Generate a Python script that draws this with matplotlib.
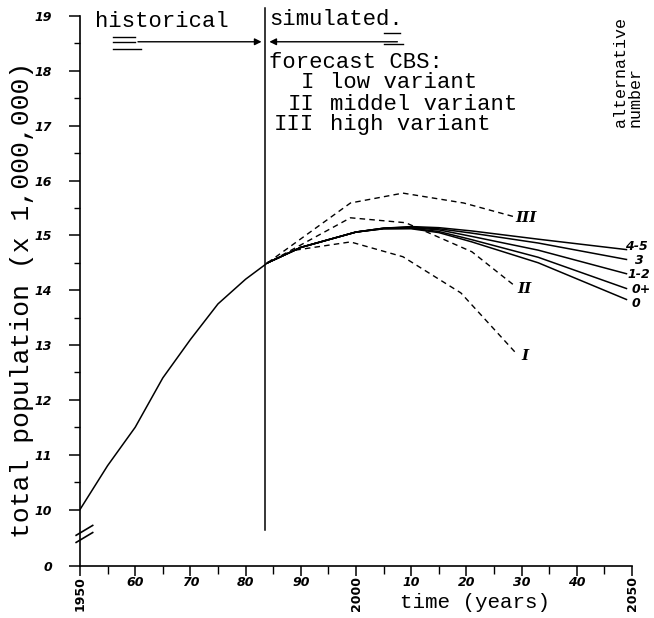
import matplotlib.pyplot as plt

# historical population, millions
hist_years = [1950, 1955, 1960, 1965, 1970, 1975, 1980, 1984]
hist_pop = [10.0, 10.8, 11.5, 12.4, 13.1, 13.75, 14.2, 14.5]

# simulated alternatives (common trunk, then they fan out)
alt_years = [1984, 1990, 2000, 2005, 2010, 2015, 2021, 2033, 2049]
alt_45 = [14.5, 14.78, 15.06, 15.13, 15.16, 15.14, 15.08, 14.93, 14.74]
alt_3 = [14.5, 14.78, 15.06, 15.13, 15.15, 15.12, 15.04, 14.86, 14.56]
alt_12 = [14.5, 14.78, 15.06, 15.13, 15.14, 15.10, 14.98, 14.73, 14.30]
alt_0p = [14.5, 14.78, 15.06, 15.12, 15.13, 15.07, 14.92, 14.60, 14.03]
alt_0 = [14.5, 14.78, 15.06, 15.12, 15.12, 15.05, 14.88, 14.50, 13.83]
alt_names = ["4-5", "3", "1-2", "0+", "0"]

# CBS forecasts
high_years = [1984, 1999, 2008.5, 2019.5, 2029]
high_pop = [14.5, 15.59, 15.77, 15.59, 15.33]
mid_years = [1985, 1999, 2009, 2021, 2029]
mid_pop = [14.55, 15.32, 15.23, 14.70, 14.06]
low_years = [1989, 1999, 2008.5, 2019, 2029]
low_pop = [14.73, 14.88, 14.61, 13.95, 12.85]

zero_pos = 8.97  # where "0" sits below the axis break
split_year = 1983.6

mono = "Liberation Mono"

fig = plt.figure(figsize=(6.54, 6.18), dpi=100)
ax = fig.add_axes([80 / 654, 52 / 618, 552 / 654, 550 / 618])
ax.set_xlim(1950, 2050)
ax.set_ylim(zero_pos, 19)
for s in ["top", "right"]:
    ax.spines[s].set_visible(False)
for s in ["left", "bottom"]:
    ax.spines[s].set_linewidth(1.2)

# lines
ax.plot(hist_years, hist_pop, color="black", lw=1.1)
for ys in [alt_45, alt_3, alt_12, alt_0p, alt_0]:
    ax.plot(alt_years, ys, color="black", lw=1.1)
for yrs, ys in [(high_years, high_pop), (mid_years, mid_pop), (low_years, low_pop)]:
    ax.plot(yrs, ys, color="black", lw=1.0, dashes=(4, 3))

# historical / simulated divider
ax.plot([split_year, split_year], [9.63, 19.15], color="black", lw=1.1, clip_on=False)
arw = dict(arrowstyle="-|>", color="black", lw=1.0, mutation_scale=10)
ax.annotate("", xy=(split_year - 0.2, 18.53), xytext=(1960, 18.53), arrowprops=arw, annotation_clip=False)
ax.annotate("", xy=(split_year + 0.2, 18.53), xytext=(2008, 18.53), arrowprops=arw, annotation_clip=False)
ax.plot([1956, 1960], [18.62, 18.62], color="black", lw=1.0, clip_on=False)
ax.plot([1956, 1961], [18.40, 18.40], color="black", lw=1.0, clip_on=False)
ax.plot([1956, 1960], [18.53, 18.53], color="black", lw=1.0, clip_on=False)
ax.plot([2005, 2008], [18.69, 18.69], color="black", lw=1.0, clip_on=False)
ax.plot([2005, 2008.5], [18.49, 18.49], color="black", lw=1.0, clip_on=False)

ax.text(1952.7, 18.8, "historical", family=mono, fontsize=16, va="baseline", clip_on=False)
ax.text(1984.3, 18.84, "simulated.", family=mono, fontsize=16, va="baseline", clip_on=False)
ax.text(1984.2, 18.05, "forecast CBS:", family=mono, fontsize=16, va="baseline")
ax.text(1992.4, 17.69, "I", family=mono, fontsize=16, va="baseline", ha="right")
ax.text(1992.4, 17.29, "II", family=mono, fontsize=16, va="baseline", ha="right")
ax.text(1992.4, 16.92, "III", family=mono, fontsize=16, va="baseline", ha="right")
ax.text(1995.3, 17.69, "low variant", family=mono, fontsize=16, va="baseline")
ax.text(1995.3, 17.29, "middel variant", family=mono, fontsize=16, va="baseline")
ax.text(1995.3, 16.92, "high variant", family=mono, fontsize=16, va="baseline")

# curve labels
lab = dict(fontsize=9, fontweight="bold", fontstyle="italic", va="baseline", clip_on=False)
for name, x, y in zip(alt_names, [2048.7, 2050.5, 2049.1, 2050.0, 2050.0],
                      [14.74, 14.47, 14.22, 13.95, 13.69]):
    ax.text(x, y, name, **lab)
rom = dict(family="DejaVu Serif", fontsize=11, fontweight="bold", fontstyle="italic", va="baseline")
ax.text(2028.8, 15.24, "III", **rom)
ax.text(2029.3, 13.95, "II", **rom)
ax.text(2030.0, 12.73, "I", **rom)

# axis break marks
for off in [0.0, 0.13]:
    ax.plot([1949.3, 1952.3], [9.40 + off, 9.58 + off], color="black", lw=1.2, clip_on=False)

# ticks
yt = [zero_pos] + list(range(10, 20))
ax.set_yticks(yt)
ax.set_yticklabels(["0"] + [str(v) for v in range(10, 20)],
                   fontsize=9, fontweight="bold", fontstyle="italic")
ax.set_yticks([v + 0.5 for v in range(10, 19)], minor=True)
ax.tick_params(axis="y", which="major", length=8, width=1.1, pad=12)
ax.tick_params(axis="y", which="minor", length=4, width=1.0)

xt = list(range(1950, 2051, 10))
xl = ["1950", "60", "70", "80", "90", "2000", "10", "20", "30", "40", "2050"]
ax.set_xticks(xt)
ax.set_xticklabels(xl, fontsize=9, fontweight="bold", fontstyle="italic")
ax.set_xticks(list(range(1955, 2050, 10)), minor=True)
ax.tick_params(axis="x", which="major", length=7, width=1.1, pad=0.5)
ax.tick_params(axis="x", which="minor", length=6, width=1.0)
for t in ax.get_xticklabels():
    if t.get_text() in ("1950", "2000", "2050"):
        t.set_rotation(90)
        t.set_fontstyle("normal")

ax.text(-0.105, 0.483, "total population (x 1,000,000)", transform=ax.transAxes,
        family=mono, fontsize=19, rotation=90, ha="center", va="center")
fig.text(475 / 654, 1 - 602 / 618, "time (years)", family=mono, fontsize=15,
         ha="center", va="center")
fig.text(628 / 654, 1 - 127 / 618, "alternative\nnumber", family=mono, fontsize=12,
         rotation=90, ha="center", va="bottom", multialignment="left", linespacing=0.95)

fig.savefig("out.png", dpi=100)
